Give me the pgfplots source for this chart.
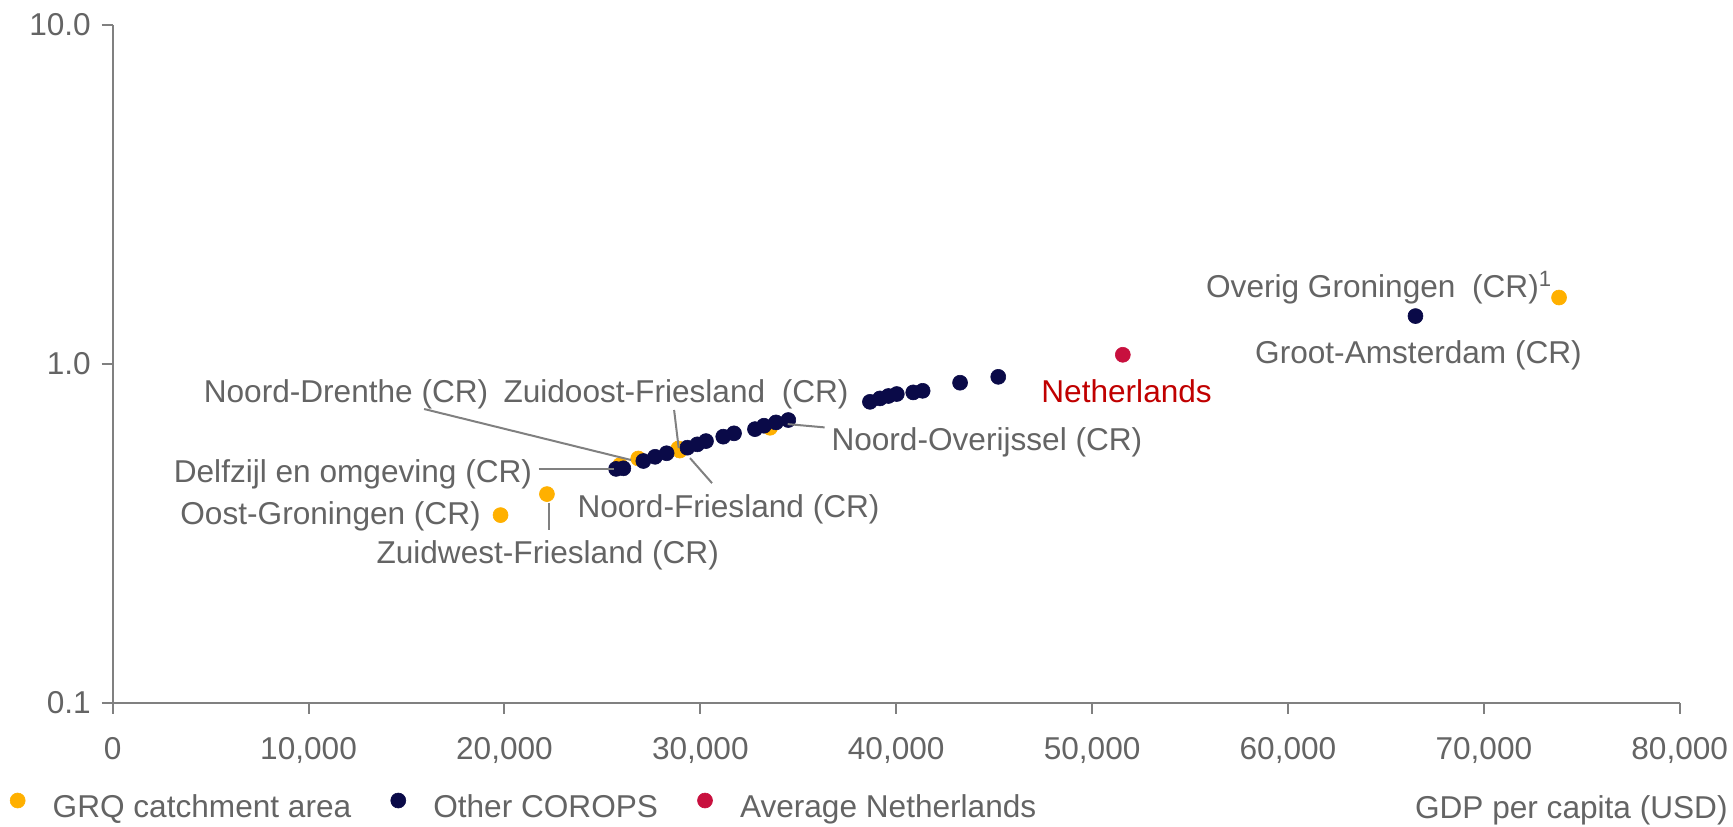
\documentclass[border=0pt]{standalone}
\usepackage{pgfplots}
\pgfplotsset{compat=1.18}
\usepackage{fontspec}
\setmainfont{Liberation Sans}

\definecolor{grq}{RGB}{255,176,0}
\definecolor{corop}{RGB}{10,10,72}
\definecolor{nlavg}{RGB}{200,16,62}
\definecolor{nltext}{RGB}{192,0,0}
\definecolor{axisgrey}{RGB}{128,128,128}
\definecolor{textgrey}{RGB}{100,100,100}

% GDP per capita (USD) against index value, one table per group
\pgfplotstableread{
x y
19800 0.358
22170 0.413
25900 0.503
26830 0.526
28880 0.563
28950 0.555
33560 0.648
73840 1.570
}\grqdata
\pgfplotstableread{
x y
25700 0.490
26070 0.492
27090 0.517
27690 0.532
28280 0.545
29340 0.566
29850 0.579
30290 0.592
31170 0.610
31720 0.624
32790 0.642
33250 0.657
33860 0.672
34490 0.683
38660 0.773
39170 0.791
39600 0.804
40030 0.815
40870 0.824
41350 0.833
43260 0.880
45210 0.916
66510 1.384
}\otherdata
\pgfplotstableread{
x y
51570 1.064
}\nldata

\begin{document}
\fontsize{15.8}{18}\selectfont
\color{textgrey}
\begin{tikzpicture}
\begin{axis}[
  scale only axis,
  width=783.5pt, height=338.9pt,
  xmin=0, xmax=80000,
  ymode=log, ymin=0.1, ymax=10,
  axis x line*=bottom, axis y line*=left,
  axis line style={draw=axisgrey, line width=1pt},
  xtick={0,10000,...,80000},
  ytick={0.1,1,10}, yticklabels={0.1,1.0,10.0},
  yminorticks=false, xminorticks=false,
  tick align=outside, major tick length=5.5pt,
  tick style={draw=axisgrey, line width=1pt},
  ticklabel style={text=textgrey},
  xticklabel style={yshift=-6.5pt},
  scaled x ticks=false,
  /pgf/number format/1000 sep={,},
  /pgf/number format/assume math mode=true,
  clip=false,
  legend columns=-1,
  legend image code/.code={%
    \path[draw=none, fill=none] (-23.5pt,0pt) rectangle (17.5pt,0pt);
    \draw[#1] plot coordinates {(0pt,8.5pt)};},
  legend style={at={(axis description cs:0,0)}, anchor=north west,
    xshift=-71.2pt, yshift=-44.9pt,
    draw=none, fill=none, inner sep=0pt,
    column sep=0pt,
    cells={anchor=base west},
    nodes={inner sep=0pt, text=textgrey, text depth=0pt}},
]
\addplot[only marks, mark=*, mark size=3.75pt, color=grq,
  mark options={draw=grq, fill=grq, line width=0.3pt}] table[x=x, y=y] {\grqdata};
\addlegendentry{GRQ catchment area}
\addplot[only marks, mark=*, mark size=3.75pt, color=corop,
  mark options={draw=corop, fill=corop, line width=0.3pt}] table[x=x, y=y] {\otherdata};
\addlegendentry{Other COROPS}
\addplot[only marks, mark=*, mark size=3.75pt, color=nlavg,
  mark options={draw=nlavg, fill=nlavg, line width=0.3pt}] table[x=x, y=y] {\nldata};
\addlegendentry{Average Netherlands}
\end{axis}

% region labels and leader lines (axis origin at 0,0; 1px = 0.5pt)
\begin{scope}[every node/.style={inner sep=0pt, text=textgrey}]
  \draw[axisgrey, line width=1pt] (155.7pt,146.9pt) -- (259.2pt,121.4pt);
  \draw[axisgrey, line width=1pt] (280.7pt,146.4pt) -- (283pt,127.4pt);
  \draw[axisgrey, line width=1pt] (212.95pt,117pt) -- (250.45pt,117pt);
  \draw[axisgrey, line width=1pt] (217.95pt,100pt) -- (217.95pt,86.35pt);
  \draw[axisgrey, line width=1pt] (288.65pt,122.35pt) -- (299.65pt,109.85pt);
  \draw[axisgrey, line width=1pt] (337.5pt,139.35pt) -- (355.95pt,137.7pt);

  \node[anchor=base east] at (188pt,150.3pt) {Noord-Drenthe (CR)};
  \node[anchor=base west] at (195.2pt,150.3pt) {Zuidoost-Friesland\hspace{0.25em} (CR)};
  \node[anchor=base east] at (209.9pt,110.1pt) {Delfzijl en omgeving (CR)};
  \node[anchor=base east] at (184.2pt,89.1pt) {Oost-Groningen (CR)};
  \node[anchor=base west] at (131.7pt,69.6pt) {Zuidwest-Friesland (CR)};
  \node[anchor=base west] at (232.2pt,92.6pt) {Noord-Friesland (CR)};
  \node[anchor=base west] at (359.2pt,126.1pt) {Noord-Overijssel (CR)};
  \node[anchor=base west, text=nltext] at (464.15pt,150.1pt) {Netherlands};
  \node[anchor=base west] at (546.5pt,202.75pt) {Overig Groningen\hspace{0.25em} (CR)\textsuperscript{1}};
  \node[anchor=base west] at (571.05pt,169.45pt) {Groot-Amsterdam (CR)};

  \node[anchor=base east] at (807.65pt,-57.7pt) {GDP per capita (USD)};
\end{scope}

\pgfresetboundingbox
\useasboundingbox (-56.35pt,-61.65pt) rectangle (810.15pt,351.4pt);
\end{tikzpicture}
\end{document}
